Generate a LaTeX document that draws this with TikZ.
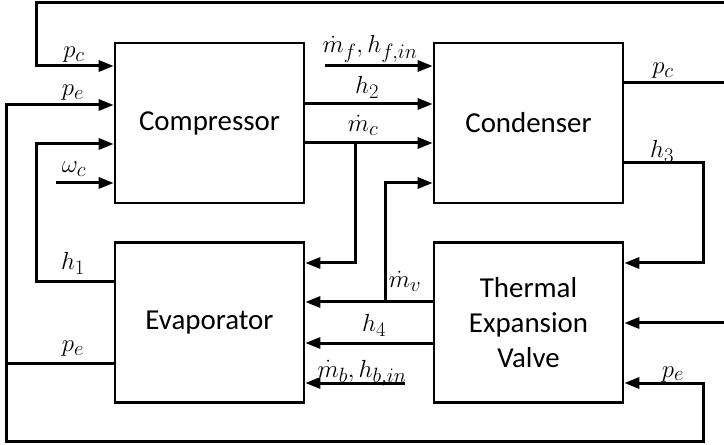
\documentclass[tikz,border=0pt]{standalone}
\usepackage{fontspec}
\newfontfamily\boxfont{Carlito}
\usetikzlibrary{arrows.meta}

\tikzset{
  block/.style={draw, line width=2.6bp, minimum width=189bp, minimum height=160bp,
    inner sep=0pt, align=center, font=\boxfont\fontsize{29}{35}\selectfont},
  sig/.style={line width=3bp},
  lbl/.style={inner sep=0pt, anchor=base, font=\fontsize{28}{30}\selectfont},
  >={Triangle[length=15bp,width=11bp]}
}

\begin{document}
\begin{tikzpicture}[x=1bp, y=-1bp]
    \useasboundingbox (0,0) rectangle (724,445);

    % Blocks
    \node[block] (comp) at (209.5,123) {Compressor};
    \node[block] (cond) at (528.5,123) {Condenser};
    \node[block] (evap) at (209.5,322.5) {Evaporator};
    \node[block] (tev)  at (528.5,322.5) {Thermal\\Expansion\\Valve};

    % Free ends
    \coordinate (topR)  at (724,3);
    \coordinate (pcR)   at (724,83);
    \coordinate (tevIn) at (724,323);
    \coordinate (mfIn)  at (325,66);
    \coordinate (wIn)   at (56,183);
    \coordinate (mbIn)  at (405,383);
    \coordinate (peJ)   at (6,363);

    % Compressor inputs
    \draw[sig,->] (topR) -- (36,3) |- (comp.west |- 0,66);
    \draw[sig] (evap.west |- peJ) -- (peJ);
    \draw[sig,->] (peJ) |- (comp.west |- 0,105);
    \draw[sig,->] (evap.west |- 0,282) -| (36,144) -- (comp.west |- 0,144);
    \draw[sig,->] (wIn) -- (comp.west |- wIn);

    % Compressor to condenser
    \draw[sig,->] (mfIn) -- (cond.west |- mfIn);
    \draw[sig,->] (comp.east |- 0,104) -- (cond.west |- 0,104);
    \draw[sig,->] (comp.east |- 0,143) -- (cond.west |- 0,143);
    \draw[sig,->] (355,143) |- (evap.east |- 0,263);

    % Condenser outputs
    \draw[sig] (cond.east |- pcR) -- (pcR);
    \draw[sig,->] (cond.east |- 0,163) -| (703,263) -- (tev.east |- 0,263);

    % Valve
    \draw[sig,->] (tevIn) -- (tev.east |- tevIn);
    \draw[sig,->] (peJ) |- (703,441) |- (tev.east |- 0,383);
    \draw[sig,->] (tev.west |- 0,302) -- (evap.east |- 0,302);
    \draw[sig,->] (385,302) |- (cond.west |- 0,183);
    \draw[sig,->] (tev.west |- 0,343) -- (evap.east |- 0,343);
    \draw[sig,->] (mbIn) -- (evap.east |- mbIn);

    % Labels
    \node[lbl] (lpcA) at (74,58)   {$p_c$};
    \node[lbl] (lpeA) at (73,96)   {$p_e$};
    \node[lbl] (lwc)  at (74,173)  {$\omega_c$};
    \node[lbl] (lh1)  at (73,270)  {$h_1$};
    \node[lbl] (lpeB) at (73,352)  {$p_e$};
    \node[lbl] (lmf)  at (370,53)  {$\dot{m}_f, h_{f,in}$};
    \node[lbl] (lh2)  at (367,94)  {$h_2$};
    \node[lbl] (lmc)  at (363,132) {$\dot{m}_c$};
    \node[lbl] (lpcB) at (663,74)  {$p_c$};
    \node[lbl] (lh3)  at (662,158) {$h_3$};
    \node[lbl] (lmv)  at (405,288) {$\dot{m}_v$};
    \node[lbl] (lh4)  at (374,332) {$h_4$};
    \node[lbl] (lmb)  at (362,377) {$\dot{m}_b, h_{b,in}$};
    \node[lbl] (lpeC) at (673,377) {$p_e$};
\end{tikzpicture}
\end{document}
